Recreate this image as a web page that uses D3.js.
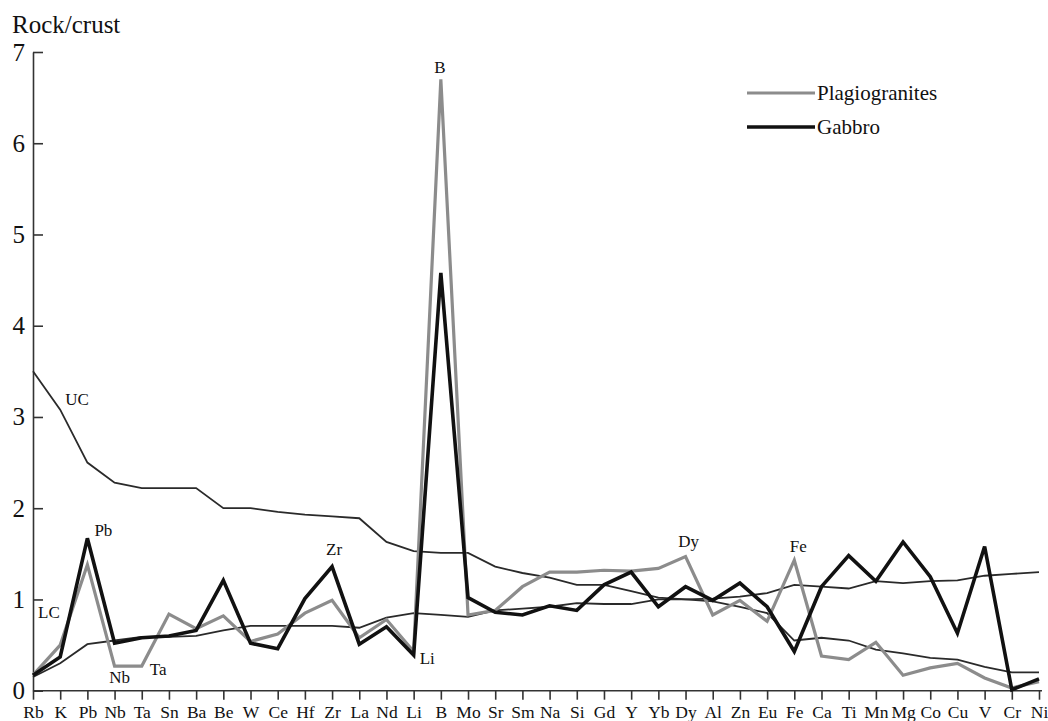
<!DOCTYPE html>
<html>
<head>
<meta charset="utf-8">
<script src="https://cdn.jsdelivr.net/npm/d3@7"></script>
<style>
  body { margin: 0; background: #fff; }
  svg text { font-family: "Liberation Serif", "DejaVu Serif", "Times New Roman", serif !important; }
</style>
</head>
<body>
<svg id="chart" width="1048" height="721"></svg>
<script>
var elements = ["Rb","K","Pb","Nb","Ta","Sn","Ba","Be","W","Ce","Hf","Zr","La","Nd","Li","B","Mo","Sr","Sm","Na","Si","Gd","Y","Yb","Dy","Al","Zn","Eu","Fe","Ca","Ti","Mn","Mg","Co","Cu","V","Cr","Ni"];

var upperCrust = [3.5,3.08,2.5,2.28,2.22,2.22,2.22,2.0,2.0,1.96,1.93,1.91,1.89,1.63,1.53,1.51,1.51,1.36,1.29,1.24,1.16,1.16,1.09,1.02,1.0,0.98,0.92,0.85,0.55,0.58,0.55,0.45,0.41,0.36,0.34,0.26,0.2,0.2];
var lowerCrust = [0.15,0.3,0.51,0.55,0.59,0.59,0.6,0.66,0.71,0.71,0.71,0.71,0.69,0.8,0.85,0.83,0.81,0.88,0.9,0.92,0.96,0.95,0.95,1.0,1.0,1.01,1.03,1.07,1.16,1.14,1.12,1.2,1.18,1.2,1.21,1.26,1.28,1.3];
var plagiogranites = [0.17,0.5,1.38,0.27,0.27,0.84,0.68,0.82,0.54,0.62,0.85,0.99,0.58,0.78,0.43,6.7,0.83,0.88,1.14,1.3,1.3,1.32,1.31,1.34,1.47,0.83,0.99,0.76,1.43,0.38,0.34,0.53,0.17,0.25,0.3,0.14,0.03,0.1];
var gabbro = [0.17,0.37,1.67,0.52,0.58,0.6,0.66,1.21,0.52,0.46,1.01,1.36,0.51,0.7,0.39,4.58,1.02,0.86,0.83,0.93,0.88,1.16,1.3,0.92,1.14,0.99,1.18,0.92,0.43,1.14,1.48,1.2,1.63,1.25,0.63,1.58,0.01,0.13];

var yTicks = [0,1,2,3,4,5,6,7];
var seriesNames = ["Plagiogranites","Gabbro"];

// text labels on the curves: element, value level of the baseline
var notes = [
    {t:"UC", c:"K", v:3.13, dx:5, anchor:"start"},
    {t:"LC", c:"Rb", v:0.80, dx:5, anchor:"start"},
    {t:"Pb", c:"Pb", v:1.69, dx:7, anchor:"start"},
    {t:"Nb", c:"Nb", v:0.085, dx:5, anchor:"middle"},
    {t:"Ta", c:"Ta", v:0.17, dx:8, anchor:"start"},
    {t:"Zr", c:"Zr", v:1.49, dx:2, anchor:"middle"},
    {t:"Li", c:"Li", v:0.29, dx:6, anchor:"start"},
    {t:"B", c:"B", v:6.77, dx:-1, anchor:"middle"},
    {t:"Dy", c:"Dy", v:1.58, dx:3, anchor:"middle"},
    {t:"Fe", c:"Fe", v:1.52, dx:4, anchor:"middle"}
];

var serif = "'Liberation Serif', 'DejaVu Serif', serif";
var svg = d3.select("#chart");

var x = d3.scalePoint().domain(elements).range([33, 1039]);
var y = d3.scaleLinear().domain([0, 7]).range([690.7, 52]);

// axes
var yAxis = svg.append("g")
    .attr("transform", "translate(33,0)")
    .call(d3.axisLeft(y).tickValues(yTicks).tickFormat(d3.format("d")).tickSize(-10).tickSizeOuter(0).tickPadding(8));
yAxis.attr("font-family", serif);
yAxis.selectAll("text").style("font-size", "25px").attr("fill", "#111");

var xAxis = svg.append("g")
    .attr("transform", "translate(0,690.7)")
    .call(d3.axisBottom(x).tickSize(9).tickSizeOuter(0).tickPadding(6));
xAxis.attr("font-family", serif);
xAxis.selectAll("text").style("font-size", "17.5px").attr("fill", "#111");
xAxis.select(".domain").attr("d", "M33,0H1042");

svg.selectAll(".domain, .tick line").attr("stroke", "#333").attr("stroke-width", 1.6);

svg.append("text")
    .attr("x", 12).attr("y", 33)
    .style("font-size", "25px")
    .attr("fill", "#111")
    .text("Rock/crust");

var line = d3.line()
    .x(function(d, i){ return x(elements[i]); })
    .y(function(d){ return y(d); });

function drawSeries(values, color, width) {
    svg.append("path")
        .datum(values)
        .attr("fill", "none")
        .attr("stroke", color)
        .attr("stroke-width", width)
        .attr("stroke-linejoin", "miter")
        .attr("d", line);
}

drawSeries(upperCrust, "#2a2a2a", 1.8);
drawSeries(lowerCrust, "#2a2a2a", 1.8);
drawSeries(plagiogranites, "#8c8c8c", 3.2);
drawSeries(gabbro, "#111", 3.6);

// labels on curves
svg.selectAll(".note")
    .data(notes)
    .enter().append("text")
    .attr("class", "note")
    .attr("x", function(d){ return x(d.c) + d.dx; })
    .attr("y", function(d){ return y(d.v); })
    .attr("text-anchor", function(d){ return d.anchor; })
    .style("font-size", "17px")
    .attr("fill", "#111")
    .text(function(d){ return d.t; });

// legend
var legColors = ["#8c8c8c", "#111"];
var leg = svg.append("g").attr("transform", "translate(747,93)");
seriesNames.forEach(function(name, i){
    leg.append("line")
        .attr("x1", 0).attr("x2", 68)
        .attr("y1", i * 34).attr("y2", i * 34)
        .attr("stroke", legColors[i])
        .attr("stroke-width", i == 0 ? 3.2 : 3.6);
    leg.append("text")
        .attr("x", 70).attr("y", i * 34 + 7)
        .style("font-size", "21px")
        .attr("fill", "#111")
        .text(name);
});
</script>
</body>
</html>
